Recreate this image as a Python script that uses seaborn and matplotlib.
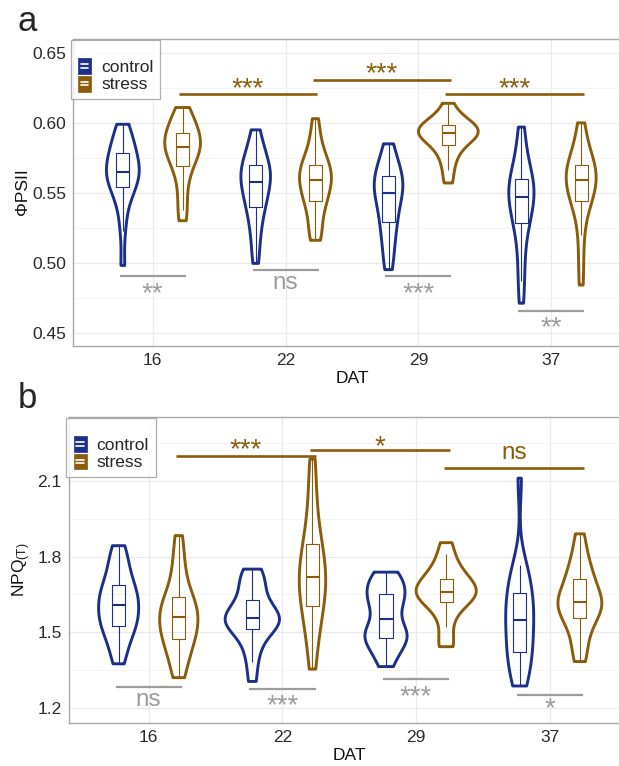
import matplotlib
matplotlib.use("Agg")
import matplotlib.pyplot as plt
from matplotlib.legend_handler import HandlerBase
from matplotlib.patches import Rectangle, Patch
from matplotlib.lines import Line2D
from matplotlib.ticker import MultipleLocator
import seaborn as sns
import pandas as pd

# ---------------- data ----------------
dat_levels = ["16", "22", "29", "37"]
groups = ["control", "stress"]

# Panel a: PhiPSII observations (estimated from the figure)
phi_c16 = [0.498, 0.523, 0.537, 0.546, 0.551, 0.555, 0.5575, 0.560, 0.5625, 0.564,
           0.566, 0.569, 0.572, 0.575, 0.578, 0.581, 0.585, 0.589, 0.594, 0.599]
phi_s16 = [0.530, 0.538, 0.549, 0.558, 0.566, 0.5705, 0.5735, 0.5765, 0.5795, 0.582,
           0.584, 0.586, 0.588, 0.590, 0.592, 0.5955, 0.599, 0.602, 0.606, 0.611]
phi_c22 = [0.4995, 0.512, 0.522, 0.530, 0.537, 0.541, 0.545, 0.549, 0.553, 0.556,
           0.559, 0.562, 0.564, 0.566, 0.569, 0.572, 0.576, 0.581, 0.587, 0.595]
phi_s22 = [0.516, 0.520, 0.527, 0.535, 0.541, 0.545, 0.548, 0.551, 0.554, 0.5575,
           0.5605, 0.5625, 0.5645, 0.567, 0.5695, 0.572, 0.577, 0.583, 0.591, 0.603]
phi_c29 = [0.495, 0.503, 0.512, 0.519, 0.525, 0.530, 0.535, 0.540, 0.544, 0.548,
           0.551, 0.5535, 0.556, 0.5585, 0.561, 0.5645, 0.568, 0.572, 0.578, 0.585]
phi_s29 = [0.557, 0.566, 0.573, 0.578, 0.582, 0.585, 0.587, 0.589, 0.590, 0.592,
           0.593, 0.594, 0.595, 0.596, 0.598, 0.600, 0.601, 0.603, 0.607, 0.614]
phi_c37 = [0.471, 0.487, 0.500, 0.513, 0.524, 0.5295, 0.534, 0.538, 0.542, 0.545,
           0.549, 0.552, 0.5545, 0.557, 0.559, 0.5625, 0.568, 0.576, 0.586, 0.597]
phi_s37 = [0.484, 0.503, 0.520, 0.533, 0.541, 0.545, 0.548, 0.551, 0.554, 0.5575,
           0.5605, 0.5625, 0.5645, 0.567, 0.5695, 0.572, 0.576, 0.582, 0.590, 0.600]

# Panel b: NPQ(T) observations (estimated from the figure)
npq_c16 = [1.374, 1.420, 1.460, 1.490, 1.512, 1.530, 1.545, 1.560, 1.580, 1.598,
           1.615, 1.630, 1.648, 1.665, 1.680, 1.705, 1.735, 1.770, 1.805, 1.843]
npq_s16 = [1.319, 1.360, 1.400, 1.435, 1.460, 1.478, 1.495, 1.512, 1.530, 1.552,
           1.568, 1.582, 1.598, 1.612, 1.630, 1.660, 1.700, 1.750, 1.810, 1.883]
npq_c22 = [1.304, 1.380, 1.430, 1.470, 1.500, 1.518, 1.528, 1.537, 1.545, 1.552,
           1.560, 1.568, 1.580, 1.598, 1.620, 1.650, 1.680, 1.705, 1.730, 1.750]
npq_s22 = [1.353, 1.440, 1.500, 1.545, 1.580, 1.612, 1.640, 1.665, 1.690, 1.710,
           1.730, 1.755, 1.780, 1.810, 1.840, 1.880, 1.930, 2.000, 2.090, 2.187]
npq_c29 = [1.363, 1.400, 1.430, 1.455, 1.470, 1.478, 1.490, 1.500, 1.512, 1.525,
           1.580, 1.600, 1.620, 1.640, 1.645, 1.670, 1.690, 1.705, 1.720, 1.738]
npq_s29 = [1.442, 1.450, 1.520, 1.570, 1.605, 1.624, 1.632, 1.640, 1.648, 1.655,
           1.665, 1.675, 1.685, 1.697, 1.708, 1.725, 1.745, 1.770, 1.810, 1.855]
npq_c37 = [1.286, 1.310, 1.340, 1.380, 1.410, 1.427, 1.450, 1.480, 1.510, 1.535,
           1.560, 1.585, 1.605, 1.625, 1.645, 1.680, 1.720, 1.745, 1.767, 2.111]
npq_s37 = [1.383, 1.420, 1.470, 1.510, 1.545, 1.562, 1.578, 1.592, 1.605, 1.615,
           1.627, 1.640, 1.655, 1.672, 1.705, 1.730, 1.745, 1.780, 1.830, 1.890]

# Significance annotations: between-day (stress) comparisons and within-day comparisons
phi_between_labels = ["***", "***", "***"]
phi_between_y = [0.6204, 0.6304, 0.6204]
phi_within_labels = ["**", "ns", "***", "**"]
phi_within_y = [0.4903, 0.4951, 0.4903, 0.4652]

npq_between_labels = ["***", "*", "ns"]
npq_between_y = [2.200, 2.222, 2.150]
npq_within_labels = ["ns", "***", "***", "*"]
npq_within_y = [1.281, 1.273, 1.313, 1.252]

# ---------------- style ----------------
sns.set_style("white")
plt.rcParams["font.family"] = ["Liberation Sans", "DejaVu Sans"]
plt.rcParams["mathtext.fontset"] = "custom"
plt.rcParams["mathtext.rm"] = "Liberation Sans"
plt.rcParams["mathtext.it"] = "Liberation Sans:italic"

C_CTRL = "#1C2F8A"
C_STRESS = "#8B5C0A"
C_GRAY = "#9C9C9C"
palette = {"control": C_CTRL, "stress": C_STRESS}
FS = 12.5

W, H = 619, 766
fig = plt.figure(figsize=(W / 100, H / 100), dpi=100)


def px_axes(left, top, right, bottom):
    return fig.add_axes([left / W, 1 - bottom / H, (right - left) / W, (bottom - top) / H])


def make_df(arrs):
    rows = []
    for (d, g), vals in arrs.items():
        for v in vals:
            rows.append({"DAT": d, "group": g, "val": v})
    return pd.DataFrame(rows)


class BoxHandler(HandlerBase):
    def create_artists(self, legend, orig_handle, xdescent, ydescent,
                       width, height, fontsize, trans):
        c = orig_handle.get_facecolor()
        w = height * 0.95
        x0 = -xdescent + (width - w) / 2
        y0 = -ydescent - height * 0.1
        h = height * 1.15
        r = Rectangle((x0, y0), w, h, facecolor=c, edgecolor=c, lw=0.5, transform=trans)
        l1 = Line2D([x0 + w * 0.22, x0 + w * 0.78], [y0 + h * 0.38] * 2, color="white", lw=1.2, transform=trans)
        l2 = Line2D([x0 + w * 0.22, x0 + w * 0.78], [y0 + h * 0.62] * 2, color="white", lw=1.2, transform=trans)
        return [r, l1, l2]


def draw_panel(ax, df, ylim, major, minor_step, between_labels, between_y,
               within_labels, within_y, between_x, between_text_y, within_text_y, bw):
    sns.violinplot(data=df, x="DAT", y="val", hue="group", order=dat_levels,
                   hue_order=groups, palette=palette, fill=False, inner=None,
                   cut=0, density_norm="area", common_norm=True, width=0.9,
                   linewidth=2.1, bw_adjust=bw, legend=False, ax=ax)
    sns.boxplot(data=df, x="DAT", y="val", hue="group", order=dat_levels,
                hue_order=groups, palette=palette, fill=False, width=0.9, gap=0.78,
                showfliers=False, linewidth=0.8, whis=1.5, legend=False,
                medianprops=dict(linewidth=1.5), capprops=dict(linewidth=0), ax=ax)
    ax.set_xlim(-0.6, 3.6)
    ax.set_ylim(*ylim)
    ax.set_yticks(major)
    ax.yaxis.set_minor_locator(MultipleLocator(minor_step))
    ax.grid(True, which="major", color="#EBEBEB", lw=0.9)
    ax.grid(True, which="minor", axis="y", color="#F4F4F4", lw=0.7)
    ax.set_axisbelow(True)
    for s in ax.spines.values():
        s.set_color("#A8A8A8")
        s.set_linewidth(1.0)
    ax.tick_params(axis="both", which="major", direction="out", length=3, width=0.8,
                   color="#444444", labelcolor="#2a2a2a", labelsize=FS, pad=2)
    ax.tick_params(axis="y", which="minor", length=0)
    ax.set_xlabel("DAT", fontsize=FS, color="#111111", labelpad=2)
    ax.set_ylabel("")

    for (x0, x1), lab, y, ty in zip(between_x, between_labels, between_y, between_text_y):
        ax.plot([x0, x1], [y, y], color=C_STRESS, lw=1.9, solid_capstyle="butt")
        fs = 17.5 if lab == "ns" else 20
        ax.text((x0 + x1) / 2, ty, lab, color=C_STRESS, fontsize=fs, ha="center", va="center")
    for i, (lab, y, ty) in enumerate(zip(within_labels, within_y, within_text_y)):
        ax.plot([i - 0.248, i + 0.248], [y, y], color=C_GRAY, lw=1.6, solid_capstyle="butt")
        fs = 17.5 if lab == "ns" else 20
        ax.text(i, ty, lab, color=C_GRAY, fontsize=fs, ha="center", va="center")

    handles = [Patch(facecolor=palette[g]) for g in groups]
    leg = ax.legend(handles, groups, loc="upper left", bbox_to_anchor=(-0.004, 0.997),
                    frameon=True, fancybox=False, fontsize=FS, handlelength=0.8,
                    handleheight=0.85, handletextpad=0.55, labelspacing=0.1,
                    borderpad=0.4, borderaxespad=0, title=" ", title_fontsize=7,
                    handler_map={Patch: BoxHandler()})
    leg.get_frame().set_edgecolor("#9A9A9A")
    leg.get_frame().set_linewidth(0.9)


# Panel a
df_a = make_df({("16", "control"): phi_c16, ("16", "stress"): phi_s16,
                ("22", "control"): phi_c22, ("22", "stress"): phi_s22,
                ("29", "control"): phi_c29, ("29", "stress"): phi_s29,
                ("37", "control"): phi_c37, ("37", "stress"): phi_s37})
ax_a = px_axes(73, 39, 631, 346)
draw_panel(ax_a, df_a, (0.4404, 0.660), [0.45, 0.50, 0.55, 0.60, 0.65], 0.025,
           phi_between_labels, phi_between_y, phi_within_labels, phi_within_y,
           [(0.195, 1.24), (1.203, 2.248), (2.203, 3.248)],
           [0.6244, 0.6345, 0.6244], [0.4776, 0.4855, 0.4776, 0.4528], 0.8)
ax_a.set_yticklabels(["0.45", "0.50", "0.55", "0.60", "0.65"])

# Panel b
df_b = make_df({("16", "control"): npq_c16, ("16", "stress"): npq_s16,
                ("22", "control"): npq_c22, ("22", "stress"): npq_s22,
                ("29", "control"): npq_c29, ("29", "stress"): npq_s29,
                ("37", "control"): npq_c37, ("37", "stress"): npq_s37})
ax_b = px_axes(68.5, 417, 630, 723)
draw_panel(ax_b, df_b, (1.139, 2.354), [1.2, 1.5, 1.8, 2.1], 0.15,
           npq_between_labels, npq_between_y, npq_within_labels, npq_within_y,
           [(0.206, 1.251), (1.203, 2.25), (2.206, 3.256)],
           [2.224, 2.236, 2.212], [1.229, 1.204, 1.241, 1.192], 0.8)
ax_b.set_yticklabels(["1.2", "1.5", "1.8", "2.1"])

# Axis titles and panel tags
fig.text(22 / W, 1 - 192 / H, "ΦPSII", rotation=90, ha="center", va="center",
         fontsize=FS, color="#111111")
fig.text(22 / W, 1 - 570 / H, r"NPQ$_{\mathrm{(T)}}$", rotation=90, ha="center",
         va="center", fontsize=FS, color="#111111")
fig.text(27 / W, 1 - 31 / H, "a", fontsize=25, ha="center", va="baseline")
fig.text(27 / W, 1 - 408 / H, "b", fontsize=25, ha="center", va="baseline")

fig.savefig("out.png", dpi=100)
